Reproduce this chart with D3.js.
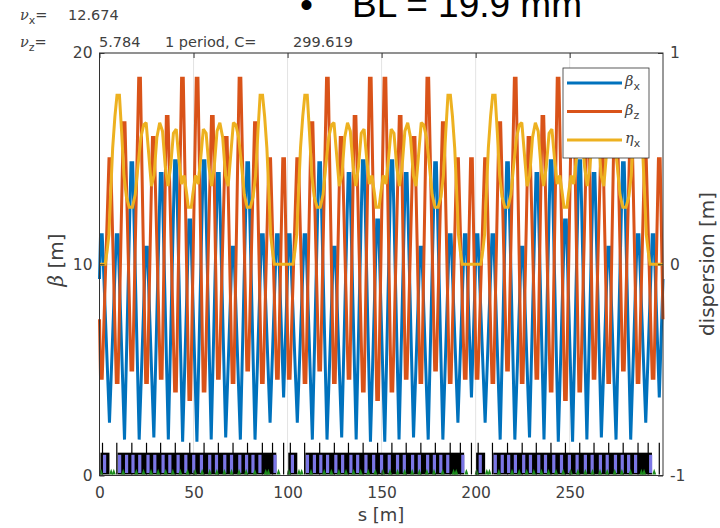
<!DOCTYPE html>
<html>
<head>
<meta charset="utf-8">
<script src="https://cdn.jsdelivr.net/npm/d3@7/dist/d3.min.js"></script>
<style>
  body { margin: 0; background: #fff; }
</style>
</head>
<body>
<svg id="chart" width="720" height="528" font-family="DejaVu Sans"></svg>
<script>
// ring data
const circumference = 299.619;
const nPeriods = 3;
const tuneX = "12.674";
const tuneZ = "5.784";

// one superperiod (s in m), the ring is 3 identical superperiods
const bxS = [0, 0.55, 1.45, 5.3, 8.95, 9.85, 13.3, 16.75, 17.65, 21.1, 24.55, 25.45, 28.9, 32.35, 33.25, 36.6, 39.95, 40.85, 44.2, 47.55, 48.45,
  51.8, 55.15, 56.05, 59.4, 62.75, 63.65, 67.1, 70.55, 71.45, 74.9, 78.35, 79.25, 82.7, 86.15, 87.05, 90.7, 94.15, 95.05, 97.9, 99.873];
const betaX = [9.3, 11.4, 11.4, 2.5, 11.4, 11.4, 1.7, 14.8, 14.8, 1.7, 10.8, 10.8, 1.8, 14.3, 14.3, 1.7, 14.9, 14.9, 1.6, 12.1, 12.1,
  1.6, 14.9, 14.9, 1.7, 14.3, 14.3, 1.8, 10.8, 10.8, 1.7, 14.8, 14.8, 1.7, 11.4, 11.4, 2.5, 11.4, 11.4, 3.7, 9.3];

const bzS = [0, 0.55, 1.45, 5.05, 5.95, 8.95, 9.85, 12.65, 13.55, 16.75, 17.65, 20.85, 21.75, 24.55, 25.45, 28.15, 29.05, 32.35, 33.25, 35.55, 36.45,
  39.95, 40.85, 43.65, 44.55, 47.55, 48.45, 51.45, 52.35, 55.15, 56.05, 59.55, 60.45, 62.75, 63.65, 66.95, 67.85, 70.55, 71.45,
  74.25, 75.15, 78.35, 79.25, 82.45, 83.35, 86.15, 87.05, 90.05, 90.95, 94.15, 95.05, 97.45, 98.35, 99.873];
const betaZ = [7.4, 4.6, 4.6, 15, 15, 4.4, 4.4, 16.7, 16.7, 5, 5, 18.8, 18.8, 4.4, 4.4, 16, 16, 4.6, 4.6, 17, 17,
  4, 4, 18.8, 18.8, 3.6, 3.6, 18.8, 18.8, 4, 4, 17, 17, 4.6, 4.6, 16, 16, 4.4, 4.4,
  18.8, 18.8, 5, 5, 16.7, 16.7, 4.4, 4.4, 15, 15, 4.6, 4.6, 15, 15, 7.4];

const etaS = [0, 3, 4, 5, 6, 7, 8.2, 9.3, 10.6, 11.8, 13, 14.3, 15.8, 17.5, 19, 20.5, 22, 23.5, 24.8, 26.2, 27.6, 29, 30.5, 32, 33.5, 35, 36.4, 37.8, 39.3, 40.8, 42.2, 43.6, 45, 46.4, 47.2,
  48.8, 49.6, 51, 52.4, 53.8, 55.2, 56.7, 58.2, 59.6, 61, 62.5, 64, 65.5, 67, 68.4, 69.8, 71.2, 72.5, 74, 75.5, 77, 78.5, 80.2, 81.7, 83, 84.2, 85.4, 86.7, 87.8, 89, 90, 91, 92, 93, 99.873];
const etaX = [0, 0, 0.06, 0.14, 0.35, 0.55, 0.7, 0.8, 0.8, 0.62, 0.42, 0.32, 0.27, 0.27, 0.33, 0.47, 0.6, 0.66, 0.67, 0.52, 0.37, 0.42, 0.6, 0.67, 0.63, 0.46, 0.37, 0.46, 0.62, 0.64, 0.5, 0.38, 0.42, 0.33, 0.27,
  0.27, 0.33, 0.42, 0.38, 0.5, 0.64, 0.62, 0.46, 0.37, 0.46, 0.63, 0.67, 0.6, 0.42, 0.37, 0.52, 0.67, 0.66, 0.6, 0.47, 0.33, 0.27, 0.27, 0.32, 0.42, 0.62, 0.8, 0.8, 0.7, 0.55, 0.35, 0.14, 0.06, 0, 0];

// lattice synopsis of one superperiod
const dipoleS = [2.7, 10.7, 14.4, 17.8, 21.4, 25.8, 29.4, 33.8, 37.4, 41.8, 45.9, 50.1, 54.2, 58.6, 62.2, 66.6, 70.2, 74.6, 78.2, 81.6, 85.3, 93.3];
const quadS = [1.6, 9.2, 17.2, 25, 32.5, 40.3, 48, 55.6, 63.2, 71, 78.7, 86.6, 92, 97.9];
const sextS = [0.8, 6.2, 7.6, 12.6, 19.6, 23.4, 27.4, 31.2, 35.2, 39, 43, 46.8, 50.8, 54.6, 58.6, 62.4, 66.4, 70.2, 74.2, 78, 82.6, 88.4, 89.8, 95.2];
const arcS = [[0.5, 5.3], [9.6, 94]];

const xTicks = [0, 50, 100, 150, 200, 250];
const yTicks = [0, 10, 20];
const dTicks = [-1, 0, 1];

const series = [
  { name: "x", sym: "\u03B2", s: bxS, v: betaX, color: "#0072BD", axis: "beta" },
  { name: "z", sym: "\u03B2", s: bzS, v: betaZ, color: "#D95319", axis: "beta" },
  { name: "x", sym: "\u03B7", s: etaS, v: etaX, color: "#EDB120", axis: "disp" }
];

var svg = d3.select("#chart");
var plotL = 99.5, plotR = 663, plotT = 53, plotB = 475.5;
var textCol = "#404040";

var x = d3.scaleLinear().domain([0, circumference]).range([plotL, plotR]);
var y = d3.scaleLinear().domain([0, 20]).range([plotB, plotT]);
var yD = d3.scaleLinear().domain([-1, 1]).range([plotB, plotT]);

var period = circumference / nPeriods;
function unroll(sArr, vArr) {
  var out = [];
  for (var p = 0; p < nPeriods; p++) {
    sArr.forEach(function (s, i) { out.push({ s: s + p * period, v: vArr[i] }); });
  }
  return out;
}
var periods = d3.range(nPeriods);

// grid
var grid = svg.append("g").attr("stroke", "#e3e3e3").attr("stroke-width", 1);
grid.selectAll("line.gx").data(xTicks).enter().append("line")
  .attr("x1", d => x(d)).attr("x2", d => x(d)).attr("y1", plotT).attr("y2", plotB);
grid.selectAll("line.gy").data(yTicks).enter().append("line")
  .attr("y1", d => y(d)).attr("y2", d => y(d)).attr("x1", plotL).attr("x2", plotR);

// lattice synopsis
var syn = svg.append("g");
periods.forEach(function (p) {
  var off = p * period;
  syn.append("g").selectAll("rect").data(arcS).enter().append("rect")
    .attr("x", d => x(d[0] + off)).attr("width", d => x(d[1]) - x(d[0]))
    .attr("y", y(1.08)).attr("height", y(0.05) - y(1.08))
    .attr("fill", "#000");
  syn.append("g").selectAll("line").data(quadS).enter().append("line")
    .attr("x1", d => x(d + off)).attr("x2", d => x(d + off))
    .attr("y1", y(0.05)).attr("y2", y(1.55))
    .attr("stroke", "#000").attr("stroke-width", 1.2);
  syn.append("g").selectAll("rect").data(dipoleS).enter().append("rect")
    .attr("x", d => x(d + off - 0.85)).attr("width", x(1.7) - x(0))
    .attr("y", y(0.98)).attr("height", y(0.12) - y(0.98))
    .attr("fill", "#7b76e6");
  syn.append("g").selectAll("path").data(sextS).enter().append("path")
    .attr("d", function (d) {
      var cx = x(d + off);
      return "M" + (cx - 2) + "," + y(0.05) + "L" + cx + "," + y(0.32) + "L" + (cx + 2) + "," + y(0.05) + "Z";
    })
    .attr("fill", "#1a8a1a");
});

// optics lines
var plotG = svg.append("g");
series.forEach(function (sr) {
  var sc = sr.axis === "beta" ? y : yD;
  var line = d3.line().x(d => x(d.s)).y(d => sc(d.v));
  plotG.append("path")
    .datum(unroll(sr.s, sr.v))
    .attr("d", line)
    .attr("fill", "none")
    .attr("stroke", sr.color)
    .attr("stroke-width", 3)
    .attr("stroke-linejoin", "miter")
    .attr("stroke-miterlimit", 2);
});

// box and ticks
svg.append("rect").attr("x", plotL).attr("y", plotT).attr("width", plotR - plotL).attr("height", plotB - plotT)
  .attr("fill", "none").attr("stroke", "#333").attr("stroke-width", 1);

function styleAxis(g) {
  g.select(".domain").remove();
  g.attr("font-family", null).attr("font-size", null);
  g.selectAll(".tick line").attr("stroke", "#333");
  g.selectAll(".tick text").attr("fill", textCol).attr("font-size", 15.5);
}
svg.append("g").attr("transform", "translate(0," + plotB + ")")
  .call(d3.axisBottom(x).tickValues(xTicks).tickSize(-5).tickPadding(11).tickFormat(d3.format("d")))
  .call(styleAxis);
svg.append("g").attr("transform", "translate(0," + plotT + ")")
  .call(d3.axisTop(x).tickValues(xTicks).tickSize(-5).tickFormat(""))
  .call(styleAxis);
svg.append("g").attr("transform", "translate(" + plotL + ",0)")
  .call(d3.axisLeft(y).tickValues(yTicks).tickSize(-5).tickPadding(7))
  .call(styleAxis);
svg.append("g").attr("transform", "translate(" + plotR + ",0)")
  .call(d3.axisRight(yD).tickValues(dTicks).tickSize(-5).tickPadding(7).tickFormat(d => d === -1 ? "-1" : d))
  .call(styleAxis);

// axis labels
svg.append("text").attr("x", 381).attr("y", 521).attr("text-anchor", "middle")
  .attr("font-size", 18).attr("fill", textCol).text("s [m]");
var yl = svg.append("text").attr("transform", "translate(63,260) rotate(-90)").attr("text-anchor", "middle")
  .attr("font-size", 20).attr("fill", textCol);
yl.append("tspan").attr("font-style", "italic").attr("font-family", "DejaVu Serif").text("\u03B2");
yl.append("tspan").text(" [m]");
svg.append("text").attr("transform", "translate(714,264) rotate(-90)").attr("text-anchor", "middle")
  .attr("font-size", 20).attr("fill", textCol).text("dispersion [m]");

// tune annotations
function nuLabel(yPos, sub, val, valX) {
  var t = svg.append("text").attr("x", 20).attr("y", yPos).attr("font-size", 14.5).attr("fill", textCol);
  t.append("tspan").attr("font-style", "italic").attr("font-family", "DejaVu Serif").text("\u03BD");
  t.append("tspan").attr("dy", 4).attr("font-size", 11).text(sub);
  t.append("tspan").attr("dy", -4).text("=");
  svg.append("text").attr("x", valX).attr("y", yPos).attr("font-size", 14.5).attr("fill", textCol).text(val);
}
nuLabel(20, "x", tuneX, 68);
nuLabel(47, "z", tuneZ, 99);
svg.append("text").attr("x", 165).attr("y", 47).attr("font-size", 14.5).attr("fill", textCol).text("1 period, C=");
svg.append("text").attr("x", 293).attr("y", 47).attr("font-size", 14.5).attr("fill", textCol).text(circumference.toFixed(3));

// slide title cut at the top
svg.append("text").attr("x", 300).attr("y", 17).attr("font-family", "Liberation Sans").attr("font-size", 37)
  .attr("fill", "#000").text("\u2022");
svg.append("text").attr("x", 352).attr("y", 17).attr("font-family", "Liberation Sans").attr("font-size", 37)
  .attr("fill", "#000").text("BL = 19.9 mm");

// legend
var lg = svg.append("g");
lg.append("rect").attr("x", 563).attr("y", 68).attr("width", 86).attr("height", 90)
  .attr("fill", "#fff").attr("stroke", "#333").attr("stroke-width", 0.8);
series.forEach(function (sr, i) {
  var yy = 83 + i * 28.5;
  lg.append("line").attr("x1", 567).attr("x2", 622).attr("y1", yy).attr("y2", yy)
    .attr("stroke", sr.color).attr("stroke-width", 3);
  var t = lg.append("text").attr("x", 625).attr("y", yy + 3).attr("font-size", 14.5).attr("fill", textCol);
  t.append("tspan").attr("font-style", "italic").attr("font-family", "DejaVu Serif").text(sr.sym);
  t.append("tspan").attr("dy", 4).attr("font-size", 11).text(sr.name);
});
</script>
</body>
</html>
